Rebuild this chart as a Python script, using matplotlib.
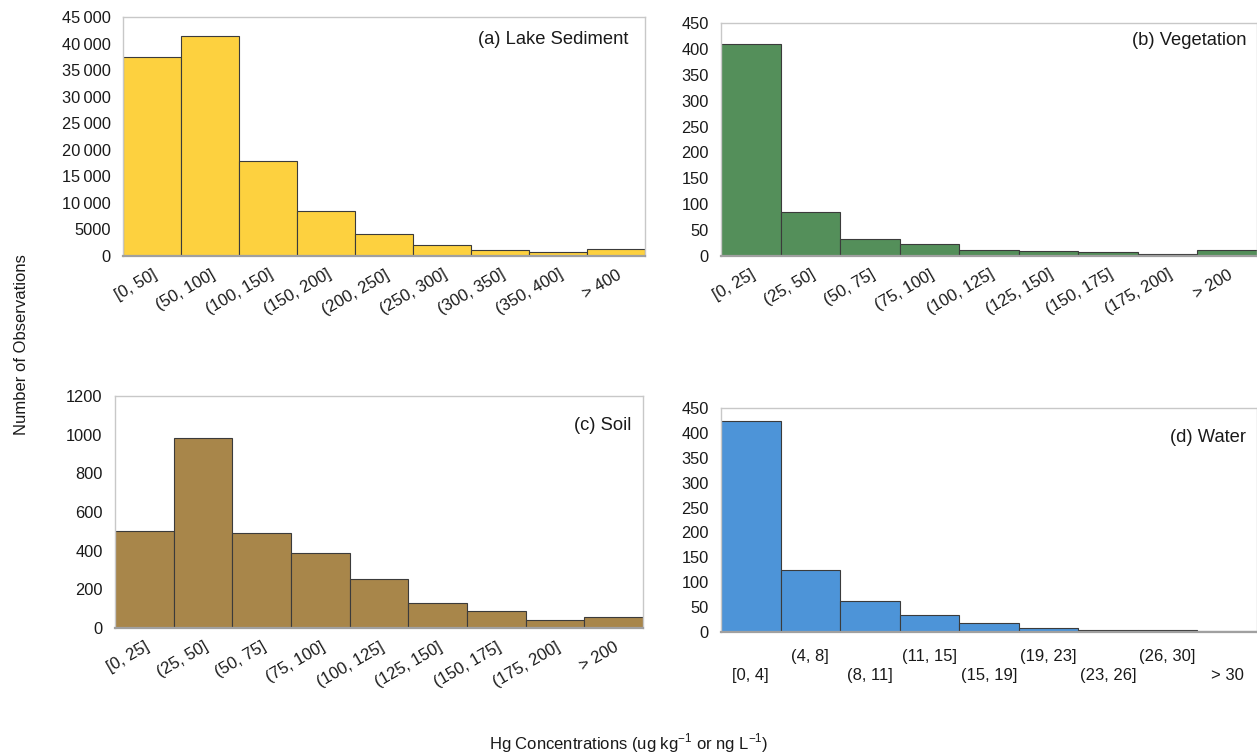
import numpy as np
import matplotlib
matplotlib.use("Agg")
import matplotlib.pyplot as plt
from matplotlib.ticker import FuncFormatter

plt.rcParams['font.family'] = ['Liberation Sans', 'DejaVu Sans']
plt.rcParams['mathtext.fontset'] = 'custom'
plt.rcParams['mathtext.rm'] = 'Liberation Sans'

# Histogram counts per concentration bin
sediment_bins = ['[0, 50]', '(50, 100]', '(100, 150]', '(150, 200]', '(200, 250]',
                 '(250, 300]', '(300, 350]', '(350, 400]', '> 400']
sediment_counts = [37400, 41500, 17800, 8400, 4050, 2150, 1200, 750, 1400]

vegetation_bins = ['[0, 25]', '(25, 50]', '(50, 75]', '(75, 100]', '(100, 125]',
                   '(125, 150]', '(150, 175]', '(175, 200]', '> 200']
vegetation_counts = [410, 85, 33, 23, 11, 9, 7, 3, 11]

soil_bins = ['[0, 25]', '(25, 50]', '(50, 75]', '(75, 100]', '(100, 125]',
             '(125, 150]', '(150, 175]', '(175, 200]', '> 200']
soil_counts = [500, 985, 493, 387, 256, 131, 88, 40, 59]

water_bins = ['[0, 4]', '(4, 8]', '(8, 11]', '(11, 15]', '(15, 19]',
              '(19, 23]', '(23, 26]', '(26, 30]', '> 30']
water_counts = [423, 125, 63, 35, 18, 8, 4, 3, 2]


def thousands(x, pos):
    # 10 000 and up get a thin-space separator, smaller values don't
    if x >= 10000:
        return f"{int(x) // 1000}\u2009{int(x) % 1000:03d}"
    return f"{int(x)}"


def hist_panel(fig, rect, bins, counts, color, ymax, ystep, title, title_off,
               stagger=False):
    ax = fig.add_axes(rect)
    x = np.arange(len(bins))
    ax.bar(x, counts, width=1.0, color=color, edgecolor='#3b3b3b', linewidth=0.8)
    ax.set_xlim(-0.5, len(bins) - 0.5)
    ax.set_ylim(0, ymax)
    ax.set_yticks(np.arange(0, ymax + 1, ystep))
    ax.yaxis.set_major_formatter(FuncFormatter(thousands))
    ax.set_xticks(x)
    if stagger:
        labels = [lab + '\n' if i % 2 else '\n' + lab for i, lab in enumerate(bins)]
        ax.set_xticklabels(labels, fontsize=12, linespacing=1.4)
        ax.tick_params(axis='x', pad=12)
    else:
        ax.set_xticklabels(bins, fontsize=12, rotation=30, ha='right',
                           rotation_mode='anchor')
        ax.tick_params(axis='x', pad=8)
    ax.tick_params(axis='both', length=0, colors='#1a1a1a')
    ax.tick_params(axis='y', pad=9, labelsize=11.8)
    for side in ['top', 'right', 'left']:
        ax.spines[side].set_color('#c8c8c8')
        ax.spines[side].set_linewidth(1.0)
    ax.spines['bottom'].set_color('#a0a0a0')
    ax.spines['bottom'].set_linewidth(1.6)
    ax.annotate(title, xy=(1, 1), xycoords='axes fraction', xytext=title_off,
                textcoords='offset pixels', ha='right', va='center', fontsize=13.2,
                color='#1a1a1a')
    return ax


fig = plt.figure(figsize=(12.57, 7.55), dpi=100)

hist_panel(fig, [0.0979, 0.661, 0.4153, 0.3165], sediment_bins, sediment_counts,
           '#fdd13f', 45000, 5000, '(a) Lake Sediment', (-17, -23))
hist_panel(fig, [0.5736, 0.661, 0.4264, 0.3086], vegetation_bins, vegetation_counts,
           '#548f5a', 450, 50, '(b) Vegetation', (-11, -18))
hist_panel(fig, [0.0915, 0.168, 0.4200, 0.3075], soil_bins, soil_counts,
           '#a8864a', 1200, 200, '(c) Soil', (-12, -30))
hist_panel(fig, [0.5736, 0.163, 0.4264, 0.2966], water_bins, water_counts,
           '#4d94d8', 450, 50, '(d) Water', (-11, -29), stagger=True)

fig.text(0.0175, 0.543, 'Number of Observations', rotation=90, ha='center',
         va='center', fontsize=12, color='#1a1a1a')
fig.text(0.5, 0.0, r'Hg Concentrations (ug kg$^{\mathregular{-1}}$ or ng L$^{\mathregular{-1}}$)',
         ha='center', va='bottom', fontsize=12, color='#1a1a1a')

fig.savefig('out.png', dpi=100)
